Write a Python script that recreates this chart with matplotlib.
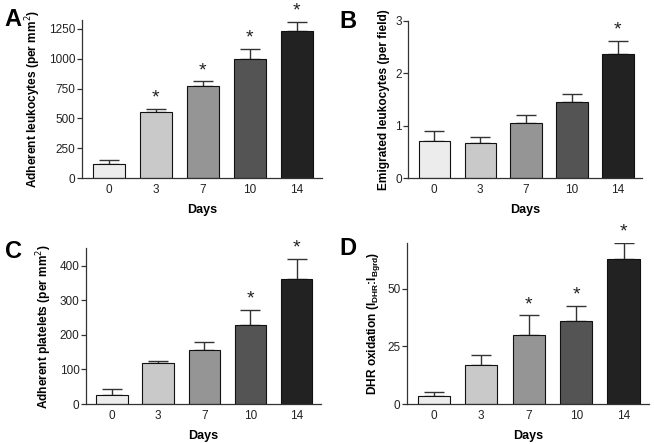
import matplotlib.pyplot as plt

plt.rcParams['font.family'] = ['Liberation Sans', 'DejaVu Sans']

days = ["0", "3", "7", "10", "14"]
colors = ["#ececec", "#c9c9c9", "#959595", "#545454", "#222222"]

leuk_adherent = [120, 550, 770, 995, 1235]
leuk_adherent_err = [35, 30, 40, 90, 75]
leuk_adherent_sig = [False, True, True, True, True]

leuk_emigrated = [0.70, 0.67, 1.05, 1.45, 2.37]
leuk_emigrated_err = [0.19, 0.12, 0.15, 0.15, 0.25]
leuk_emigrated_sig = [False, False, False, False, True]

platelets = [27, 118, 157, 227, 362]
platelets_err = [15, 5, 23, 45, 58]
platelets_sig = [False, False, False, True, True]

dhr = [3.5, 17, 30, 36, 63]
dhr_err = [1.7, 4.5, 8.5, 6.5, 7]
dhr_sig = [False, False, True, True, True]

# letter, axes rect, letter position (figure px), data, label, limits, ticks
panels = [
    ("A", [0.125, 0.599, 0.367, 0.356], (4, 8), leuk_adherent, leuk_adherent_err, leuk_adherent_sig,
     "Adherent leukocytes (per mm$^2$)", (0, 1325), [0, 250, 500, 750, 1000, 1250]),
    ("B", [0.624, 0.599, 0.358, 0.354], (339, 10), leuk_emigrated, leuk_emigrated_err, leuk_emigrated_sig,
     "Emigrated leukocytes (per field)", (0, 3), [0, 1, 2, 3]),
    ("C", [0.131, 0.090, 0.360, 0.351], (5, 240), platelets, platelets_err, platelets_sig,
     "Adherent platelets (per mm$^2$)", (0, 450), [0, 100, 200, 300, 400]),
    ("D", [0.622, 0.090, 0.370, 0.363], (339, 237), dhr, dhr_err, dhr_sig,
     "DHR oxidation (I$_{\\mathregular{DHR}}$:I$_{\\mathregular{Bgrd}}$)", (0, 70), [0, 25, 50]),
]

W, H = 654, 444
fig = plt.figure(figsize=(W / 100, H / 100), dpi=100)

for letter, rect, lpos, vals, errs, sig, ylabel, ylim, yticks in panels:
    ax = fig.add_axes(rect)
    x = list(range(len(days)))
    ax.bar(x, vals, width=0.68, color=colors, edgecolor="#111111", linewidth=0.8, zorder=2)
    ax.errorbar(x, vals, yerr=[[0] * len(errs), errs], fmt="none", ecolor="#333333",
                elinewidth=1.0, capsize=7, capthick=1.0, zorder=1)
    span = ylim[1] - ylim[0]
    for xi, v, e, s in zip(x, vals, errs, sig):
        if s:
            ax.text(xi, v + e + span * 0.015, "*", ha="center", va="bottom",
                    fontsize=14, color="#222222")
    ax.set_xlim(-0.57, 4.53)
    ax.set_ylim(*ylim)
    ax.set_yticks(yticks)
    ax.set_xticks(x)
    ax.set_xticklabels(days)
    ax.spines["top"].set_visible(False)
    ax.spines["right"].set_visible(False)
    for sp in ("left", "bottom"):
        ax.spines[sp].set_color("#333333")
        ax.spines[sp].set_linewidth(0.9)
    ax.tick_params(axis="both", labelsize=8.5, length=3.5, width=0.9, color="#333333",
                   labelcolor="#222222")
    ax.tick_params(axis="y", pad=1)
    ax.tick_params(axis="x", length=0, pad=4)
    ax.set_xlabel("Days", fontsize=9, fontweight="bold", labelpad=6)
    ax.set_ylabel(ylabel, fontsize=8.6, fontweight="bold", labelpad=4)
    fig.text(lpos[0] / W, 1 - lpos[1] / H, letter, fontsize=17,
             fontweight="bold", ha="left", va="top")

fig.savefig("out.png", dpi=100)
